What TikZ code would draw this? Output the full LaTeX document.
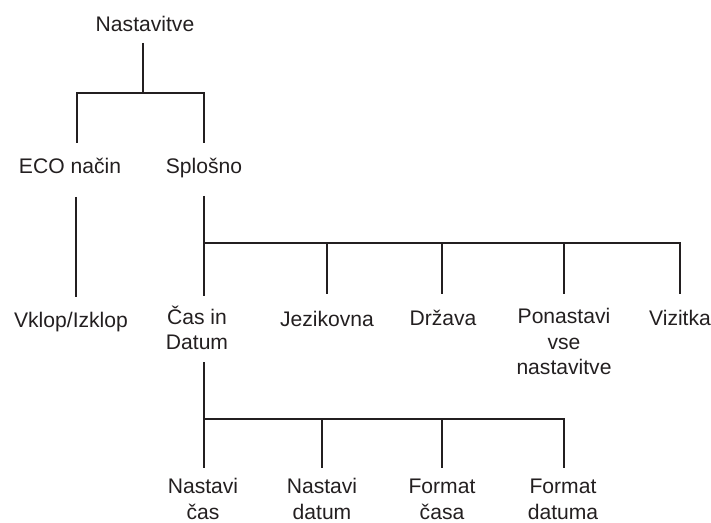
\documentclass[tikz,border=0pt]{standalone}
\usepackage{fontspec}
\setmainfont{Liberation Sans}
\definecolor{ink}{HTML}{231F20}
\begin{document}
\begin{tikzpicture}[x=1pt,y=1pt,
  lbl/.style={font=\fontsize{21.1}{25.5}\selectfont, text=ink, align=center, inner sep=0pt, anchor=base},
  conn/.style={draw=ink, line width=2.7pt, line cap=butt, line join=miter}]
\useasboundingbox (0,0) rectangle (711,522);
% nodes (x, last baseline)
\node[lbl] (nast) at (145,490) {Nastavitve};
\node[lbl] (eco)  at (70,348) {ECO način};
\node[lbl] (splo) at (204,348) {Splošno};
\node[lbl] (vklop) at (71,194) {Vklop/Izklop};
\node[lbl] (cas)  at (197,172) {Čas in\\Datum};
\node[lbl] (jez)  at (327,195) {Jezikovna};
\node[lbl] (drz)  at (443,196) {Država};
\node[lbl] (pon)  at (564,147) {Ponastavi\\vse\\nastavitve};
\node[lbl] (viz)  at (680,196) {Vizitka};
\node[lbl] (ncas) at (203,3) {Nastavi\\čas};
\node[lbl] (ndat) at (322,3) {Nastavi\\datum};
\node[lbl] (fcas) at (442,3) {Format\\časa};
\node[lbl] (fdat) at (563,3) {Format\\datuma};
% junction coordinates
\coordinate (b1) at (143,429);
\coordinate (b2) at (204,279);
\coordinate (b3) at (204,103);
% level 1
\draw[conn] ([xshift=-2pt,yshift=-11pt]nast.base) -- (b1);
\draw[conn] (b1) -| ([xshift=7pt,yshift=31pt]eco.base);
\draw[conn] (b1) -| ([yshift=31pt]splo.base);
% ECO -> Vklop
\draw[conn] ([xshift=6pt,yshift=-23pt]eco.base) -- ([xshift=5pt,yshift=31pt]vklop.base);
% Splosno -> children
\draw[conn] ([yshift=-22pt]splo.base) -- (b2) -- ([xshift=7pt,yshift=54pt]cas.base);
\draw[conn] (b2) -| ([yshift=33pt]jez.base);
\draw[conn] (b2) -| ([xshift=-1pt,yshift=32pt]drz.base);
\draw[conn] (b2) -| ([yshift=81pt]pon.base);
\draw[conn] (b2) -| ([yshift=32pt]viz.base);
% Cas in Datum -> children
\draw[conn] ([xshift=7pt,yshift=-12pt]cas.base) -- (b3) -- ([xshift=1pt,yshift=51pt]ncas.base);
\draw[conn] (b3) -| ([yshift=51pt]ndat.base);
\draw[conn] (b3) -| ([yshift=51pt]fcas.base);
\draw[conn] (b3) -| ([xshift=1pt,yshift=51pt]fdat.base);
\end{tikzpicture}
\end{document}
